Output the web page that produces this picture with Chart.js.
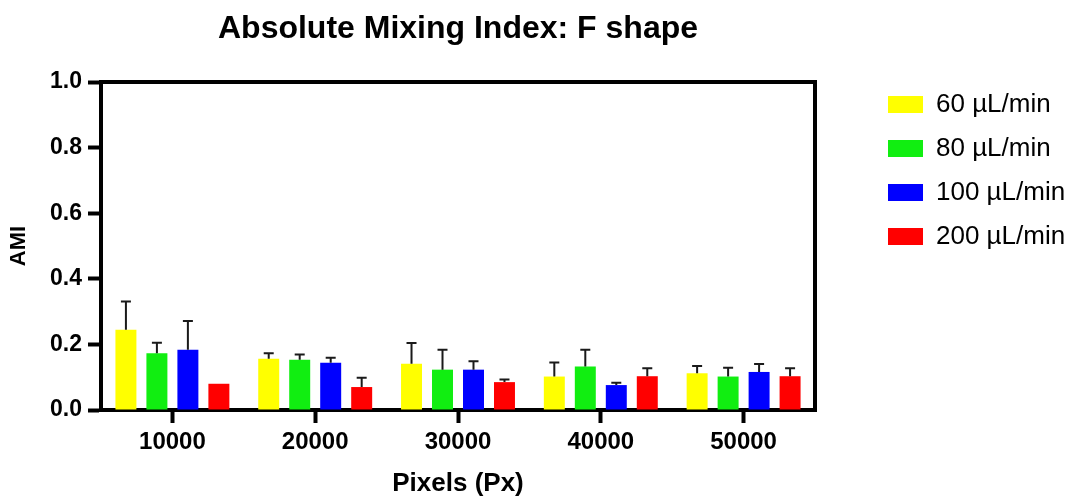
<!DOCTYPE html>
<html>
<head>
<meta charset="utf-8">
<script src="https://cdn.jsdelivr.net/npm/chart.js@4"></script>
<style>
  html, body { margin: 0; padding: 0; background: #fff; }
  #wrap { width: 1083px; height: 499px; position: relative; }
</style>
</head>
<body>
<div id="wrap"><canvas id="c"></canvas></div>
<script>
const categories = ['10000', '20000', '30000', '40000', '50000'];
const seriesNames = ['60 µL/min', '80 µL/min', '100 µL/min', '200 µL/min'];
const seriesColors = ['#ffff00', '#11ee11', '#0000ff', '#ff0000'];

const ami60  = [0.245, 0.156, 0.141, 0.102, 0.112];
const ami80  = [0.173, 0.153, 0.123, 0.133, 0.102];
const ami100 = [0.184, 0.144, 0.123, 0.076, 0.116];
const ami200 = [0.080, 0.070, 0.085, 0.103, 0.103];

const err60  = [0.086, 0.017, 0.063, 0.043, 0.022];
const err80  = [0.032, 0.016, 0.061, 0.051, 0.027];
const err100 = [0.087, 0.015, 0.026, 0.007, 0.024];
const err200 = [0.000, 0.028, 0.008, 0.024, 0.024];

const yTickLabels = ['0.0', '0.2', '0.4', '0.6', '0.8', '1.0'];

const FONT = "'Liberation Sans', Arial, Helvetica, sans-serif";
const seriesValues = [ami60, ami80, ami100, ami200];
const seriesErrors = [err60, err80, err100, err200];

const errorBars = {
  id: 'errorBars',
  afterDatasetsDraw(chart) {
    const ctx = chart.ctx;
    const y = chart.scales.y;
    ctx.save();
    ctx.strokeStyle = '#1a1a1a';
    ctx.lineWidth = 2;
    chart.data.datasets.forEach((ds, di) => {
      const meta = chart.getDatasetMeta(di);
      meta.data.forEach((bar, i) => {
        const e = ds.errors[i];
        if (!e) return;
        const v = ds.data[i];
        const yTop = y.getPixelForValue(v + e);
        const yBase = y.getPixelForValue(v);
        ctx.beginPath();
        ctx.moveTo(bar.x, yBase);
        ctx.lineTo(bar.x, yTop);
        ctx.moveTo(bar.x - 5, yTop);
        ctx.lineTo(bar.x + 5, yTop);
        ctx.stroke();
      });
    });
    ctx.restore();
  }
};

const frame = {
  id: 'frame',
  afterDatasetsDraw(chart) {
    const {ctx, chartArea: a} = chart;
    ctx.save();
    ctx.strokeStyle = '#000';
    ctx.lineWidth = 4;
    ctx.lineCap = 'square';
    ctx.beginPath();
    ctx.moveTo(a.left, a.top);
    ctx.lineTo(a.right, a.top);
    ctx.lineTo(a.right, a.bottom);
    ctx.stroke();
    ctx.restore();
  }
};

const legendPlacer = {
  id: 'legendPlacer',
  beforeLayout(chart) {
    const lg = chart.legend;
    if (lg && !lg.__wrapped) {
      const orig = lg.fit;
      lg.fit = function () { orig.call(this); this.width = 262; };
      lg.__wrapped = true;
    }
  },
  afterLayout(chart) {
    const lg = chart.legend;
    const a = chart.chartArea;
    if (lg) {
      lg.left = a.right + 55;
      lg.top = a.top - 8.5;
    }
  }
};

new Chart(document.getElementById('c'), {
  type: 'bar',
  data: {
    labels: categories,
    datasets: seriesNames.map((name, k) => ({
      label: name,
      data: seriesValues[k],
      errors: seriesErrors[k],
      backgroundColor: seriesColors[k],
      borderWidth: 0,
      categoryPercentage: 0.868,
      barPercentage: 0.677
    }))
  },
  options: {
    responsive: true,
    maintainAspectRatio: false,
    animation: false,
    layout: { padding: { left: 0, right: 6, top: 0, bottom: 0 } },
    plugins: {
      title: {
        display: true,
        text: 'Absolute Mixing Index: F shape',
        color: '#000',
        fullSize: false,
        font: { family: FONT, size: 32, weight: 'bold' },
        padding: { top: 10, bottom: 33.6 }
      },
      legend: {
        display: true,
        position: 'right',
        align: 'start',
        labels: {
          color: '#000',
          boxWidth: 35,
          boxHeight: 17,
          padding: 18,
          font: { family: FONT, size: 26 }
        }
      },
      tooltip: { enabled: false }
    },
    scales: {
      x: {
        afterFit(scale) { scale.height = 89; },
        grid: { display: true, drawOnChartArea: false, offset: false, tickLength: 13, tickWidth: 4, tickColor: '#000' },
        border: { display: true, width: 4, color: '#000' },
        ticks: { color: '#000', padding: 5, font: { family: FONT, size: 24, weight: 'bold' } },
        title: {
          display: true, text: 'Pixels (Px)', color: '#000',
          font: { family: FONT, size: 26, weight: 'bold' },
          padding: { top: 0, bottom: 0 }
        }
      },
      y: {
        min: 0, max: 1,
        afterFit(scale) { scale.width = 101; },
        grid: { display: true, drawOnChartArea: false, tickLength: 13, tickWidth: 4, tickColor: '#000' },
        border: { display: true, width: 4, color: '#000' },
        ticks: {
          stepSize: 0.2, color: '#000', padding: 6,
          font: { family: FONT, size: 23, weight: 'bold' },
          callback: (v, i) => yTickLabels[i]
        },
        title: {
          display: true, text: 'AMI', color: '#000',
          font: { family: FONT, size: 22, weight: 'bold' },
          padding: { top: 6, bottom: 0 }
        }
      }
    }
  },
  plugins: [errorBars, frame, legendPlacer]
});
</script>
</body>
</html>
